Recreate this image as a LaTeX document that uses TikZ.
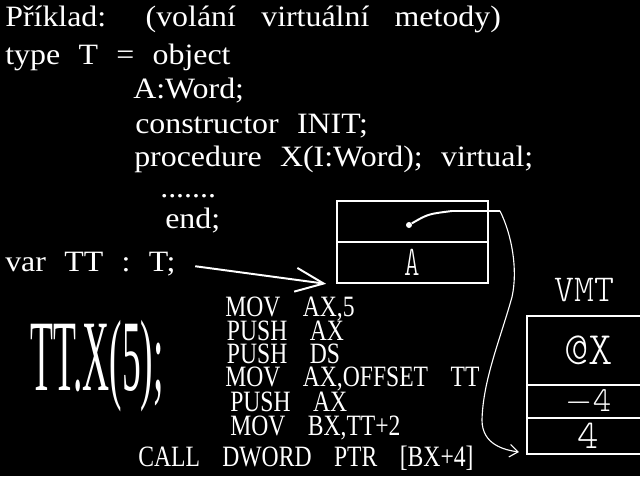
\documentclass[tikz,border=0pt]{standalone}
\usepackage{fontspec}
\usepackage{graphicx}
\usetikzlibrary{positioning,arrows.meta}
\newfontfamily\srcfont{Liberation Serif}[FakeStretch=1.08,WordSpace=2.3]
\newfontfamily\asmfont{Liberation Serif}[FakeStretch=0.8,WordSpace=3.8]
\newfontfamily\bigfont{Liberation Serif}[FakeStretch=0.37]
\newfontfamily\thinfont{lmmonolt10-regular.otf}
\tikzset{
  src/.style={anchor=base west,inner sep=0pt,text=white,font=\srcfont\fontsize{21}{24}\selectfont},
  asm/.style={anchor=base west,inner sep=0pt,text=white,font=\asmfont\fontsize{21}{24}\selectfont},
  cell/.style={draw=white,line width=1.2pt,inner sep=0pt,text=white,minimum width=3.775cm},
  vcell/.style={draw=white,line width=1.2pt,inner sep=0pt,text=white,minimum width=3.075cm},
  ptr/.style={draw=white,line width=0.8pt},
}
\begin{document}
\begin{tikzpicture}[x=0.025cm,y=-0.025cm]
\useasboundingbox (0,0) rectangle (640,476);
\clip (0,0) rectangle (640,476);
\fill[black] (0,0) rectangle (640,476);
\node[src] (title) at (5,26) {Příklad:\hspace{28pt}(volání\hspace{18pt}virtuální\hspace{18pt}metody)};
\node[src] (typeT) at (5,64) {type T = object};
\node[src] (fieldA) at (133,98.5) {A:Word;};
\node[src] (ctor) at (135,133) {constructor INIT;};
\node[src] (procX) at (134,166) {procedure X(I:Word); virtual;};
\node[src] (dots) at (160,197) {.......};
\node[src] (endkw) at (165,228) {end;};
\node[src] (varTT) at (5,271) {var TT : T;};
\node[cell,minimum height=1.025cm] (ttvmt) at (412.5,221.5) {};
\node[cell,minimum height=1.025cm,font=\thinfont\fontsize{30}{30}\selectfont] (ttA) at (412.5,262.5) {\scalebox{0.7}[1]{A}};
\node[circle,fill=white,inner sep=0pt,minimum size=0.15cm] (vptr) at (409,225) {};
\node[text=white,inner sep=0pt,font=\thinfont\fontsize{27}{27}\selectfont] (vmtlab) at (584.5,290) {VMT};
\node[vcell,minimum height=1.725cm,font=\thinfont\fontsize{33}{33}\selectfont] (vmtX) at (588.5,350.5) {@X};
\node[vcell,minimum height=0.825cm,font=\thinfont\fontsize{25}{25}\selectfont] (vmtneg) at (588.5,401.5) {$-$4};
\node[vcell,minimum height=0.9cm,font=\thinfont\fontsize{29}{29}\selectfont] (vmtpos) at (588.5,436) {4};
\coordinate (bend) at (500,211);
\coordinate (vmtend) at (519,452);
\draw[ptr,line width=1.4pt] (vptr) .. controls (428,214) .. (452,211) -- (bend);
\draw[ptr,-{Straight Barb[length=6pt,width=9pt]}] (bend) .. controls (512,235) and (518,270) .. (512,297) .. controls (500,340) and (483,380) .. (482,420) .. controls (482,445) and (505,450) .. (vmtend);
\draw[ptr,line width=1.4pt,shorten <=10\pgflinewidth,-{Straight Barb[length=20pt,width=17pt]}] (varTT.east) -- ([xshift=-0.25cm]ttA.south west);
\node[anchor=base west,inner sep=0pt,text=white,font=\bigfont\fontsize{72}{80}\selectfont] (callsrc) at (30,390.7) {TT.X(5);};
\node[asm] (a1) at (225,316.7) {MOV AX,5};
\node[asm] (a2) at (226.7,340) {PUSH AX};
\node[asm] (a3) at (226.7,363.3) {PUSH DS};
\node[asm] (a4) at (225,386.7) {MOV AX,OFFSET TT};
\node[asm] (a5) at (230,411) {PUSH AX};
\node[asm] (a6) at (230,435) {MOV BX,TT+2};
\node[asm] (a7) at (138,466.7) {CALL DWORD PTR [BX+4]};
\end{tikzpicture}
\end{document}
